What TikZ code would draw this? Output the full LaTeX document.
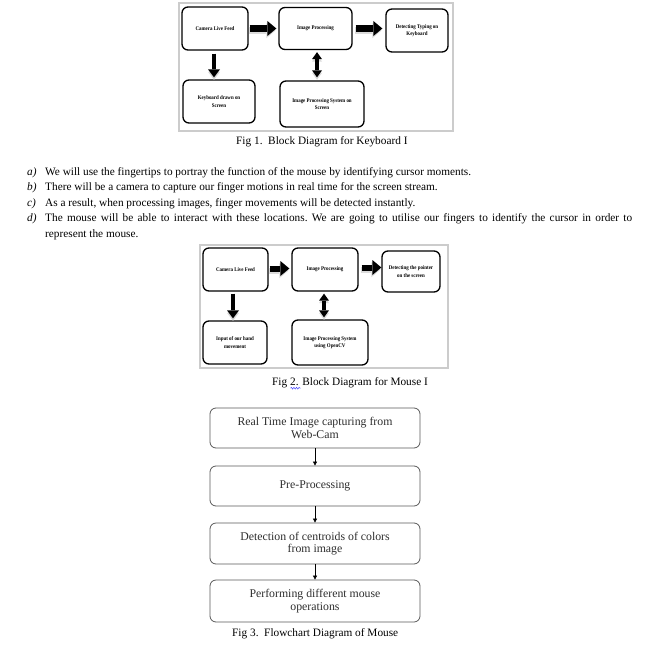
\documentclass[tikz,border=0pt]{standalone}
\usepackage{fontspec}
\setmainfont{Liberation Serif}
\newfontfamily\condfont[FakeStretch=0.88]{Liberation Serif}
\usetikzlibrary{arrows.meta,calc,decorations.pathmorphing}
\begin{document}
\begin{tikzpicture}[x=1pt,y=-1pt,
  bbox/.style={draw=black, line width=1.3pt, rounded corners=6pt, align=center, inner sep=1pt,
    font=\condfont\fontsize{5.6}{7.2}\selectfont\bfseries},
  frame/.style={draw=gray!40, line width=1.2pt},
  flow/.style={draw=black!65, line width=0.8pt, rounded corners=6pt, minimum width=210pt,
    align=center, text=black!82, font=\fontsize{11.8}{12.5}\selectfont},
  body/.style={anchor=base west, inner sep=0pt, font=\fontsize{11.3}{13}\selectfont},
  figcap/.style={anchor=base west, inner sep=0pt, font=\fontsize{11.3}{13}\selectfont},
  rarr/.style={draw=black, line width=6.5pt, -{Triangle[length=9pt,width=15pt,line width=0pt]}},
  rsh/.style={draw=gray!28, line width=6.5pt, -{Triangle[length=9pt,width=15pt,line width=0pt]},
    transform canvas={xshift=-1pt,yshift=-2.2pt}},
  darr/.style={draw=black, line width=4.5pt, -{Triangle[length=8pt,width=12pt,line width=0pt]}},
  dsh/.style={draw=gray!28, line width=4.5pt, -{Triangle[length=8pt,width=12pt,line width=0pt]},
    transform canvas={yshift=-2.5pt}},
  barr/.style={draw=black, line width=4pt, {Triangle[length=7pt,width=10pt,line width=0pt]}-{Triangle[length=7pt,width=10pt,line width=0pt]}},
  bsh/.style={draw=gray!28, line width=4pt, {Triangle[length=7pt,width=10pt,line width=0pt]}-{Triangle[length=7pt,width=10pt,line width=0pt]},
    transform canvas={yshift=-2.5pt}},
  farr/.style={draw=black, line width=0.6pt, -{Triangle[length=4pt,width=4pt]}}
]
\useasboundingbox (0,0) rectangle (652,644);
\fill[white] (0,0) rectangle (652,644);

% ---------------- Fig 1 ----------------
\draw[frame] (179,3) rectangle (453,131);
\node[bbox, minimum width=66pt, minimum height=43pt] (cam1) at (215,28.5) {Camera Live Feed};
\node[bbox, minimum width=73pt, minimum height=42pt] (ip1) at (315.5,28.5) {Image Processing};
\node[bbox, minimum width=62pt, minimum height=43pt] (det1) at (417,30.5) {Detecting Typing on\\Keyboard};
\node[bbox, minimum width=72pt, minimum height=43pt] (kb1) at (219,101.5) {Keyboard drawn on\\Screen};
\node[bbox, minimum width=84pt, minimum height=46pt] (ips1) at (322,104) {Image Processing System on\\Screen};

\draw[rsh, shorten <=1pt, shorten >=2pt] (cam1.east) -- (ip1.west);
\draw[rarr, shorten <=1pt, shorten >=2pt] (cam1.east) -- (ip1.west);
\coordinate (ip1e) at (ip1.east);
\coordinate (det1w) at (det1.west |- ip1e);
\draw[rsh, shorten <=3pt, shorten >=3pt] (ip1e) -- (det1w);
\draw[rarr, shorten <=3pt, shorten >=3pt] (ip1e) -- (det1w);
\coordinate (cam1s) at ($(cam1.south)+(-1,0)$);
\coordinate (kb1n) at (cam1s |- kb1.north);
\draw[dsh, shorten <=3pt, shorten >=2pt] (cam1s) -- (kb1n);
\draw[darr, shorten <=3pt, shorten >=2pt] (cam1s) -- (kb1n);
\coordinate (ip1s) at ($(ip1.south)+(1.5,0)$);
\coordinate (ips1n) at (ip1s |- ips1.north);
\draw[bsh, shorten <=2pt, shorten >=3pt] (ip1s) -- (ips1n);
\draw[barr, shorten <=2pt, shorten >=3pt] (ip1s) -- (ips1n);

\node[figcap] (cap1) at (236,144.5) {Fig 1.\ \ Block Diagram for Keyboard I};

% ---------------- text ----------------
\node[body] (la) at (27,175.5) {\textit{a)}};
\node[body] (ta) at (45,175.5) {We will use the fingertips to portray the function of the mouse by identifying cursor moments.};
\node[body] (lb) at (27,191) {\textit{b)}};
\node[body] (tb) at (45,191) {There will be a camera to capture our finger motions in real time for the screen stream.};
\node[body] (lc) at (27,206.5) {\textit{c)}};
\node[body] (tc) at (45,206.5) {As a result, when processing images, finger movements will be detected instantly.};
\node[body] (ld) at (27,222) {\textit{d)}};
\node[body] (td) at (45,222) {\makebox[587pt][s]{The mouse will be able to interact with these locations.\ We are going to utilise our fingers to identify the cursor in order to}};
\node[body] (te) at (45,237.5) {represent the mouse.};

% ---------------- Fig 2 ----------------
\draw[frame] (200,245) rectangle (448,368);
\node[bbox, minimum width=65pt, minimum height=43pt] (cam2) at (235.5,269.5) {Camera Live Feed};
\node[bbox, minimum width=66pt, minimum height=43pt] (ip2) at (325,269.5) {Image Processing};
\node[bbox, minimum width=58pt, minimum height=41pt] (det2) at (411,271.5) {Detecting the pointer\\on the screen};
\node[bbox, minimum width=64pt, minimum height=43pt] (in2) at (235,342.5) {Input of our hand\\movement};
\node[bbox, minimum width=76pt, minimum height=45pt] (ips2) at (330,342.5) {Image Processing System\\using OpenCV};

\coordinate (cam2e) at ($(cam2.east)+(0,-1)$);
\coordinate (ip2w) at (ip2.west |- cam2e);
\draw[rsh, line width=6pt, shorten <=1pt, shorten >=2pt] (cam2e) -- (ip2w);
\draw[rarr, line width=6pt, shorten <=1pt, shorten >=2pt] (cam2e) -- (ip2w);
\coordinate (ip2e) at ($(ip2.east)+(0,-2)$);
\coordinate (det2w) at (det2.west |- ip2e);
\draw[rsh, line width=6pt, shorten <=3pt, shorten >=0pt] (ip2e) -- (det2w);
\draw[rarr, line width=6pt, shorten <=3pt, shorten >=0pt] (ip2e) -- (det2w);
\coordinate (cam2s) at ($(cam2.south)+(-2.5,0)$);
\coordinate (in2n) at (cam2s |- in2.north);
\draw[dsh, shorten <=2pt, shorten >=2pt] (cam2s) -- (in2n);
\draw[darr, shorten <=2pt, shorten >=2pt] (cam2s) -- (in2n);
\coordinate (ip2s) at ($(ip2.south)+(-1,0)$);
\coordinate (ips2n) at (ip2s |- ips2.north);
\draw[bsh, shorten <=2pt, shorten >=2pt] (ip2s) -- (ips2n);
\draw[barr, shorten <=2pt, shorten >=2pt] (ip2s) -- (ips2n);

\node[figcap] (cap2) at (272,385) {Fig 2. Block Diagram for Mouse I};
\coordinate (sqa) at ($(cap2.base west)+(18.5,3.2)$);
\coordinate (sqb) at ($(sqa)+(10,0)$);
\draw[blue!70, line width=0.5pt, decorate, decoration={snake, amplitude=0.9pt, segment length=2.6pt}] (sqa) -- (sqb);

% ---------------- Fig 3 ----------------
\node[flow, minimum height=40pt] (f1) at (315,428) {Real Time Image capturing from\\Web-Cam};
\node[flow, minimum height=40pt] (f2) at (315,486) {Pre-Processing};
\node[flow, minimum height=41pt] (f3) at (315,543.5) {Detection of centroids of colors\\from image};
\node[flow, minimum height=42pt] (f4) at (315,601) {Performing different mouse\\operations};
\draw[farr] (f1) -- (f2);
\draw[farr] (f2) -- (f3);
\draw[farr] (f3) -- (f4);

\node[figcap] (cap3) at (232,636.5) {Fig 3.\ \ Flowchart Diagram of Mouse};
\end{tikzpicture}
\end{document}
